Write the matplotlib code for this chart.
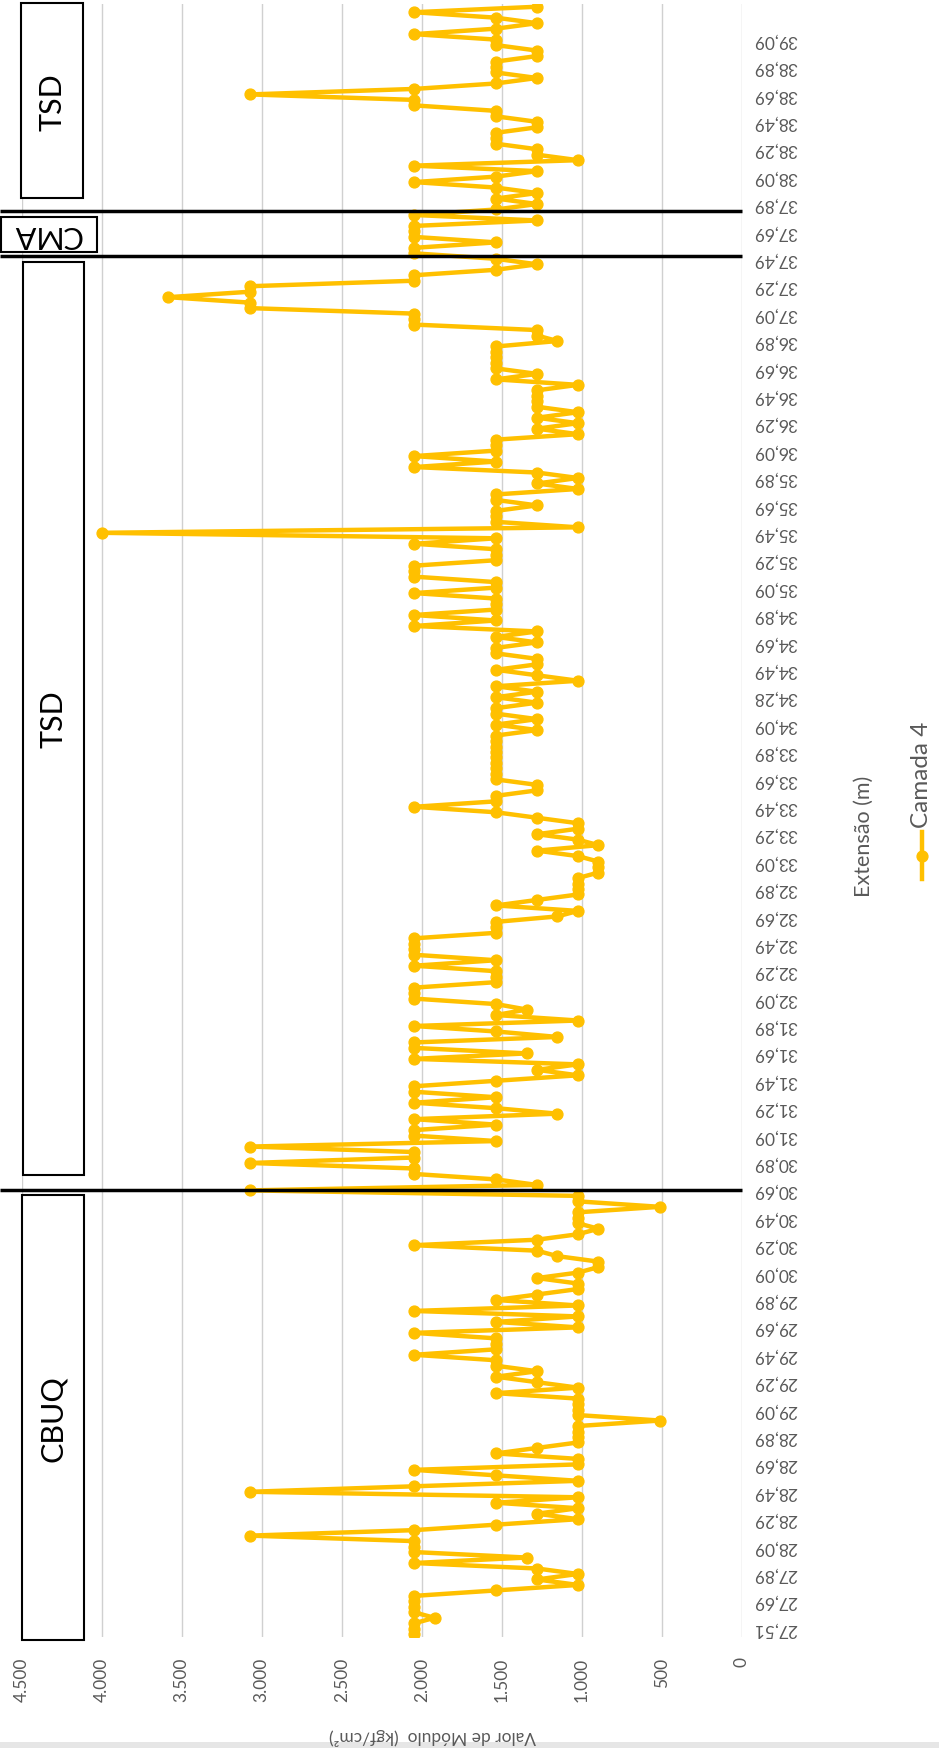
import matplotlib
matplotlib.use('Agg')
import matplotlib.pyplot as plt
import matplotlib.transforms as mtransforms
from matplotlib.patches import Rectangle
from matplotlib.lines import Line2D

plt.rcParams['font.family'] = ['Lato', 'DejaVu Sans']

# ---------------- data ----------------
modulo = [
    2048, 2048, 2048, 1920, 2048, 2048, 2048, 2048, 1536, 1024,
    1280, 1024, 1280, 2048, 1344, 2048, 2048, 2048, 3072, 2048,
    1536, 1024, 1280, 1024, 1536, 1024, 3072, 2048, 1024, 1536,
    2048, 1024, 1024, 1536, 1280, 1024, 1024, 1024, 1024, 512,
    1024, 1024, 1024, 1024, 1536, 1024, 1280, 1536, 1280, 1536,
    1536, 2048, 1536, 1536, 1536, 2048, 1024, 1536, 1024, 2048,
    1024, 1536, 1280, 1024, 1024, 1280, 1024, 896, 896, 1152,
    1280, 2048, 1280, 1024, 896, 1024, 1024, 1024, 512, 1024,
    1024, 3072, 1280, 1536, 2048, 2048, 3072, 2048, 2048, 3072,
    1536, 2048, 2048, 1536, 2048, 1152, 1536, 2048, 1536, 2048,
    2048, 1536, 1024, 1280, 1024, 2048, 1344, 2048, 2048, 1152,
    1536, 2048, 1024, 1536, 1344, 1536, 2048, 2048, 2048, 1536,
    1536, 1536, 2048, 1536, 2048, 2048, 2048, 2048, 1536, 1536,
    1536, 1152, 1024, 1536, 1280, 1024, 1024, 1024, 1024, 896,
    896, 896, 1024, 1280, 896, 1024, 1280, 1024, 1024, 1280,
    1536, 2048, 1536, 1536, 1280, 1280, 1536, 1536, 1536, 1536,
    1536, 1536, 1536, 1536, 1536, 1280, 1536, 1280, 1536, 1536,
    1280, 1536, 1280, 1536, 1024, 1280, 1536, 1280, 1280, 1536,
    1536, 1280, 1536, 1280, 2048, 1536, 2048, 1536, 1536, 1536,
    2048, 1536, 1536, 2048, 2048, 2048, 1536, 1536, 1536, 2048,
    1536, 4000, 1024, 1536, 1536, 1536, 1280, 1536, 1536, 1024,
    1280, 1024, 1280, 2048, 1536, 2048, 1536, 1536, 1536, 1024,
    1280, 1024, 1280, 1024, 1280, 1280, 1280, 1280, 1024, 1536,
    1280, 1536, 1536, 1536, 1536, 1536, 1152, 1280, 1280, 2048,
    2048, 2048, 3072, 3072, 3584, 3072, 3072, 2048, 2048, 1536,
    1280, 1536, 2048, 2048, 1536, 2048, 2048, 2048, 1280, 2048,
    1536, 1280, 1536, 1280, 1536, 2048, 1536, 1280, 2048, 1024,
    1280, 1280, 1536, 1536, 1536, 1280, 1280, 1536, 1536, 2048,
    2048, 3072, 2048, 1536, 1280, 1536, 1536, 1536, 1280, 1280,
    1536, 1536, 2048, 1536, 1280, 1536, 2048, 1280,
]

extensao_labels = [
    '27,51', '27,69', '27,89', '28,09', '28,29', '28,49', '28,69', '28,89',
    '29,09', '29,29', '29,49', '29,69', '29,89', '30,09', '30,29', '30,49',
    '30,69', '30,89', '31,09', '31,29', '31,49', '31,69', '31,89', '32,09',
    '32,29', '32,49', '32,69', '32,89', '33,09', '33,29', '33,49', '33,69',
    '33,89', '34,09', '34,28', '34,49', '34,69', '34,89', '35,09', '35,29',
    '35,49', '35,69', '35,89', '36,09', '36,29', '36,49', '36,69', '36,89',
    '37,09', '37,29', '37,49', '37,69', '37,89', '38,09', '38,29', '38,49',
    '38,69', '38,89', '39,09',
]
label_step = 5

value_ticks = [0, 500, 1000, 1500, 2000, 2500, 3000, 3500, 4000, 4500]
value_tick_labels = ['0', '500', '1.000', '1.500', '2.000', '2.500',
                     '3.000', '3.500', '4.000', '4.500']

section_breaks = [81.0, 251.5, 259.8]   # positions along the category axis
series_name = 'Camada 4'

# ---------------- figure ----------------
W, H = 939, 1749
fig = plt.figure(figsize=(W / 100, H / 100), dpi=100)


def fx(px):
    return px / W


def fy(py):
    return 1 - py / H


ax_left, ax_right = 21.8, 741.8
ax_top, ax_bottom = 5.0, 1638.0
ax = fig.add_axes([fx(ax_left), fy(ax_bottom),
                   (ax_right - ax_left) / W, (ax_bottom - ax_top) / H])

gold = '#FFC000'
txt_gray = '#595959'
idx = list(range(len(modulo)))
ax.plot(modulo, idx, color=gold, lw=3.2, marker='o', ms=7.8,
        mfc=gold, mec=gold, solid_joinstyle='round', zorder=3)

ax.set_xlim(4500, 0)
ax.set_ylim(-0.5, len(modulo) - 0.5)

ax.set_xticks(value_ticks)
ax.set_xticklabels(value_tick_labels, rotation=90, fontsize=12.5,
                   color=txt_gray)
ax.tick_params(axis='x', length=0, pad=14)
ax.xaxis.grid(True, color='#d0d0d0', lw=1.0)
ax.set_axisbelow(True)

# category labels (upside-down), drawn at every 5th category
ax.set_yticks([])
lab_tr = (mtransforms.blended_transform_factory(ax.transAxes, ax.transData)
          + mtransforms.ScaledTranslation(11 / 100, 6 / 100,
                                          fig.dpi_scale_trans))
for k, lab in enumerate(extensao_labels):
    ax.text(1.0, k * label_step, lab, transform=lab_tr, rotation=180,
            ha='left', va='center', fontsize=12.5, color=txt_gray,
            clip_on=False)

for s in ax.spines.values():
    s.set_visible(False)

# section separator lines (extend to the figure edge)
for b in section_breaks:
    ax.plot([4500 + 21.8 / 0.16, 0], [b, b], color='black', lw=2.5,
            clip_on=False, zorder=4, solid_capstyle='butt')

# axis titles
fig.text(fx(864), fy(836), 'Extensão (m)', rotation=90, ha='center',
         va='center', fontsize=15.5, color=txt_gray)
fig.text(fx(432), fy(1737), 'Valor de Módulo  (kgf/cm²)', rotation=180,
         ha='center', va='center', fontsize=12.5, color=txt_gray)

# legend (rotated)
lx = 922
fig.add_artist(Line2D([fx(lx), fx(lx)], [fy(880), fy(833)], color=gold,
                      lw=3.2, transform=fig.transFigure))
fig.add_artist(Line2D([fx(lx)], [fy(857)], color=gold, marker='o', ms=7.8,
                      transform=fig.transFigure))
fig.text(fx(lx), fy(828), series_name, rotation=90, ha='center',
         va='bottom', fontsize=17.5, color=txt_gray)

# section boxes
boxes = [
    # (x0, y0, x1, y1, text, rotation, text_x)
    (22.3, 1195.5, 83.6, 1641.0, 'CBUQ', 90, 53.0),
    (22.7, 262.7, 84.3, 1176.0, 'TSD', 90, 53.5),
    (1.0, 218.0, 97.0, 253.0, 'CMA', 180, 47.0),
    (20.7, 4.0, 83.3, 199.3, 'TSD', 90, 52.0),
]
for x0, y0, x1, y1, txt, rot, tx in boxes:
    fig.add_artist(Rectangle((fx(x0), fy(y1)), (x1 - x0) / W, (y1 - y0) / H,
                             transform=fig.transFigure, fill=True,
                             facecolor='white', edgecolor='black', lw=1.5,
                             zorder=5))
    fig.text(fx(tx), fy((y0 + y1) / 2), txt, rotation=rot, ha='center',
             va='center', fontsize=22, color='black', zorder=6)

# bottom border strip
fig.add_artist(Rectangle((0, 0), 1, 6 / H, transform=fig.transFigure,
                         facecolor='#e6e6e6', edgecolor='none'))

fig.savefig('out.png', dpi=100)
